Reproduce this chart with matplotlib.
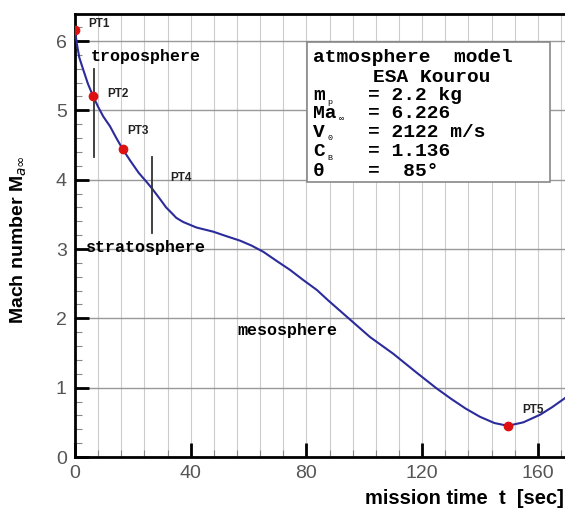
import numpy as np
import matplotlib
matplotlib.use("Agg")
import matplotlib.pyplot as plt
from matplotlib.patches import Rectangle
from matplotlib.ticker import MultipleLocator

# trajectory
t_sec = [0, 0.6, 1.5, 2.9, 4.5, 6.3, 8, 9.8, 12.1, 14.3, 16.5, 19, 22, 24.5, 26.5,
         29.4, 31.5, 33.4, 35, 37.4, 42, 47.8, 52, 57.1, 61, 65.1, 70, 74.3, 79,
         83.6, 87.5, 91.6, 95.7, 102, 110, 118, 125, 130, 135, 140, 145, 149.6,
         155, 160.8, 165, 169.4]
mach = [6.16, 5.97, 5.76, 5.58, 5.38, 5.2, 5.05, 4.91, 4.77, 4.6, 4.44, 4.28, 4.1,
        3.98, 3.88, 3.72, 3.6, 3.52, 3.45, 3.39, 3.31, 3.25, 3.19, 3.12, 3.05,
        2.96, 2.82, 2.70, 2.55, 2.41, 2.26, 2.11, 1.96, 1.73, 1.49, 1.22, 0.99,
        0.84, 0.70, 0.58, 0.49, 0.45, 0.50, 0.61, 0.72, 0.85]

# red points
pt_names = ["PT1", "PT2", "PT3", "PT5"]
pt_t = [0, 6.3, 16.5, 149.6]
pt_m = [6.16, 5.21, 4.44, 0.45]

# layer boundaries (vertical markers)
bound_t = [6.5, 26.5]
bound_lo = [4.33, 3.23]
bound_hi = [5.59, 4.33]

box_lines = ["m", "Ma", "V", "C", "\u03b8"]
box_subs = ["p", "\u221e", "0", "B", ""]
box_vals = ["= 2.2 kg", "= 6.226", "= 2122 m/s", "= 1.136", "=  85\u00b0"]

W, H = 565, 509
fig = plt.figure(figsize=(W / 100, H / 100), dpi=100)
ax = fig.add_axes([75 / W, 1 - 457 / H, 1 - 75 / W, (457 - 14) / H])

def px(x, y):
    return x / W, 1 - y / H

ax.set_xlim(0, 169.4)
ax.set_ylim(0, 6.39)

ax.xaxis.set_major_locator(MultipleLocator(40))
ax.xaxis.set_minor_locator(MultipleLocator(8))
ax.yaxis.set_major_locator(MultipleLocator(1))
ax.yaxis.set_minor_locator(MultipleLocator(0.2))
ax.grid(True, which="minor", axis="x", color="#cccccc", lw=0.8)
ax.grid(True, which="major", axis="x", color="#cccccc", lw=0.8)
ax.grid(True, which="major", axis="y", color="#999999", lw=1.0)
ax.set_axisbelow(True)

ax.tick_params(which="major", direction="in", length=10, width=2, color="black",
               labelsize=14, labelcolor="#555555", pad=6)
ax.tick_params(which="minor", direction="in", length=5, width=0.8, color="#888888")
for lab in ax.get_xticklabels() + ax.get_yticklabels():
    lab.set_family("Liberation Sans")

for s in ["left", "bottom", "top"]:
    ax.spines[s].set_linewidth(2)
ax.spines["right"].set_visible(False)

ax.plot(t_sec, mach, color="#2b2b9c", lw=1.5, zorder=3)
ax.plot(pt_t, pt_m, "o", color="#dd1111", ms=6, zorder=4, clip_on=True)

for bt, lo, hi in zip(bound_t, bound_lo, bound_hi):
    ax.plot([bt, bt], [lo, hi], color="#333333", lw=1.3, zorder=3)

# point labels
pt_lab_pos = {"PT1": (88, 24), "PT2": (107, 94), "PT3": (127, 131),
              "PT4": (170, 178), "PT5": (522, 410)}
for name, (x, y) in pt_lab_pos.items():
    fig.text(*px(x, y), name, fontsize=8.5, fontweight="bold", family="Liberation Sans",
             color="#222222", va="center", ha="left")

mono = ["Liberation Mono", "DejaVu Sans Mono"]
fig.text(*px(91, 56), "troposphere", fontsize=12, fontweight="bold", family=mono, va="center")
fig.text(*px(86, 247), "stratosphere", fontsize=12, fontweight="bold", family=mono, va="center")
fig.text(*px(237, 330), "mesosphere", fontsize=12, fontweight="bold", family=mono, va="center")

# parameter box
fig.patches.append(Rectangle(px(307, 182), (550 - 307) / W, (182 - 42) / H,
                             transform=fig.transFigure, facecolor="white",
                             edgecolor="#888888", lw=1.2, zorder=5))
bfs = 14
fig.text(*px(313, 58), "atmosphere  model", fontsize=bfs, fontweight="bold", family=mono,
         va="center", zorder=6)
fig.text(*px(373, 77), "ESA Kourou", fontsize=bfs, fontweight="bold", family=mono,
         va="center", zorder=6)
rows_y = [96, 114, 133, 152, 171]
for i, (lab, sub, val) in enumerate(zip(box_lines, box_subs, box_vals)):
    y = rows_y[i]
    fig.text(*px(313, y), lab, fontsize=bfs, fontweight="bold",
             family=mono + ["DejaVu Sans"], va="center", zorder=6)
    if sub:
        fig.text(*px(315 + 12 * len(lab), y + 6), sub, fontsize=6,
                 family=mono + ["DejaVu Sans"], va="center", zorder=6)
    fig.text(*px(368, y), val, fontsize=bfs, fontweight="bold", family=mono,
             va="center", zorder=6)

# axis labels
fig.text(*px(19, 240), r"Mach number M$_{a\infty}$", rotation=90, fontsize=14,
         fontweight="bold", family="Liberation Sans", ha="center", va="center")
fig.text(*px(564, 498), "mission time  t  [sec]", fontsize=14.5, fontweight="bold",
         family="Liberation Sans", ha="right", va="center")

fig.savefig("out.png", dpi=100)
